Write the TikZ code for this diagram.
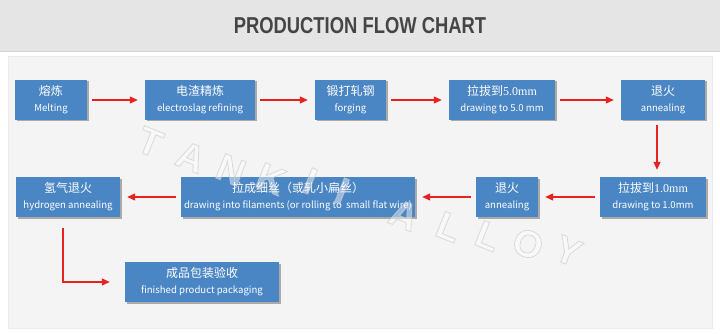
\documentclass[tikz,border=0pt]{standalone}
\usepackage{fontspec}
\setmainfont{Noto Sans CJK SC}
\newfontfamily\cjk{Noto Sans CJK SC}
\newfontfamily\numfont{Liberation Serif}
\newfontfamily\titlefont[FakeStretch=0.8]{Liberation Sans}
\newfontfamily\markfont{Liberation Sans}
\usetikzlibrary{arrows.meta,shadows}

\definecolor{boxblue}{HTML}{4A86C4}
\definecolor{flowred}{HTML}{E8231F}
\definecolor{bandgray}{HTML}{E5E5E5}
\definecolor{panelgray}{HTML}{F4F4F4}
\definecolor{titlegray}{HTML}{454545}

\tikzset{
  stepbox/.style={fill=boxblue,text=white,minimum height=40pt,inner sep=0pt,align=center,
    font=\fontsize{9.6}{16}\selectfont,
    drop shadow={shadow xshift=1.5pt,shadow yshift=-1.5pt,opacity=0.3,fill=black}},
  flow/.style={draw=flowred,line width=1.1pt,-{Triangle[length=8pt,width=7pt]},
    shorten <=5pt,shorten >=7pt},
  markletter/.style={rotate=-22,text=white,font=\markfont\bfseries\fontsize{38}{38}\selectfont},
}
\newcommand{\steptext}[2]{{\cjk\fontsize{12}{16}\selectfont #1}\\#2}
% white letters with a light grey edge
\newcommand{\outlined}[1]{\special{pdf:code 2 Tr 0.8 w 0.8 G}#1\special{pdf:code 0 Tr 0.4 w}}

\begin{document}
\begin{tikzpicture}[x=1pt,y=-1pt]
  \useasboundingbox (0,0) rectangle (720,334);
  % header band and panel
  \fill[bandgray] (0,0) rectangle (720,51);
  \draw[black!17,line width=1pt] (0,51.5)--(720,51.5);
  \node[font=\titlefont\bfseries\fontsize{23}{23}\selectfont,text=titlegray] (title) at (360,26) {PRODUCTION FLOW CHART};
  \fill[panelgray,draw=black!8,drop shadow={shadow xshift=1pt,shadow yshift=-1pt,opacity=0.12,fill=black}] (8,56) rectangle (712,328);

  % first row
  \node[stepbox,minimum width=72pt] (melt) at (51,100) {\steptext{熔炼}{Melting}};
  \node[stepbox,minimum width=110pt] (esr) at (200,100) {\steptext{电渣精炼}{electroslag refining}};
  \node[stepbox,minimum width=71pt] (forge) at (350.5,100) {\steptext{锻打轧钢}{forging}};
  \node[stepbox,minimum width=106pt] (draw5) at (502,100) {\steptext{拉拔到{\numfont 5.0mm}}{drawing to 5.0 mm}};
  \node[stepbox,minimum width=84pt] (ann1) at (663,100) {\steptext{退火}{annealing}};
  % second row
  \node[stepbox,minimum width=106pt] (draw1) at (653,197) {\steptext{拉拔到{\numfont 1.0mm}}{drawing to 1.0mm}};
  \node[stepbox,minimum width=62pt] (ann2) at (507,197) {\steptext{退火}{annealing}};
  \node[stepbox,minimum width=234pt] (fila) at (298,197) {\steptext{拉成细丝（或轧小扁丝）}{drawing into filaments (or rolling to \ small flat wire)}};
  \node[stepbox,minimum width=104pt] (hyd) at (68,197) {\steptext{氢气退火}{hydrogen annealing}};
  % last row
  \node[stepbox,minimum width=154pt] (pack) at (202,282) {\steptext{成品包装验收}{finished product packaging}};

  % connectors
  \draw[flow] (melt.east)--(esr.west);
  \draw[flow] (esr.east)--(forge.west);
  \draw[flow] (forge.east)--(draw5.west);
  \draw[flow] (draw5.east)--(ann1.west);
  \draw[flow] ([xshift=-6pt]ann1.south)--([xshift=-6pt]ann1.south |- draw1.north);
  \draw[flow] (draw1.west)--(ann2.east);
  \draw[flow] (ann2.west)--(fila.east);
  \draw[flow] (fila.west)--(hyd.east);
  \draw[flow,shorten <=11pt,shorten >=15pt] ([xshift=-5pt]hyd.south) |- (pack.west);

  % watermark
  \begin{scope}[fill opacity=0.45,draw opacity=0.7]
    \foreach \ch/\px/\py in {T/150/142,A/191/157,N/231/170,K/271/179,I/310/181,I/342/191,
                             A/404/215,L/449/227,L/488/236,O/528/244,Y/568/251}
      \node[markletter] at (\px,\py) {\outlined{\ch}};
  \end{scope}
\end{tikzpicture}
\end{document}
